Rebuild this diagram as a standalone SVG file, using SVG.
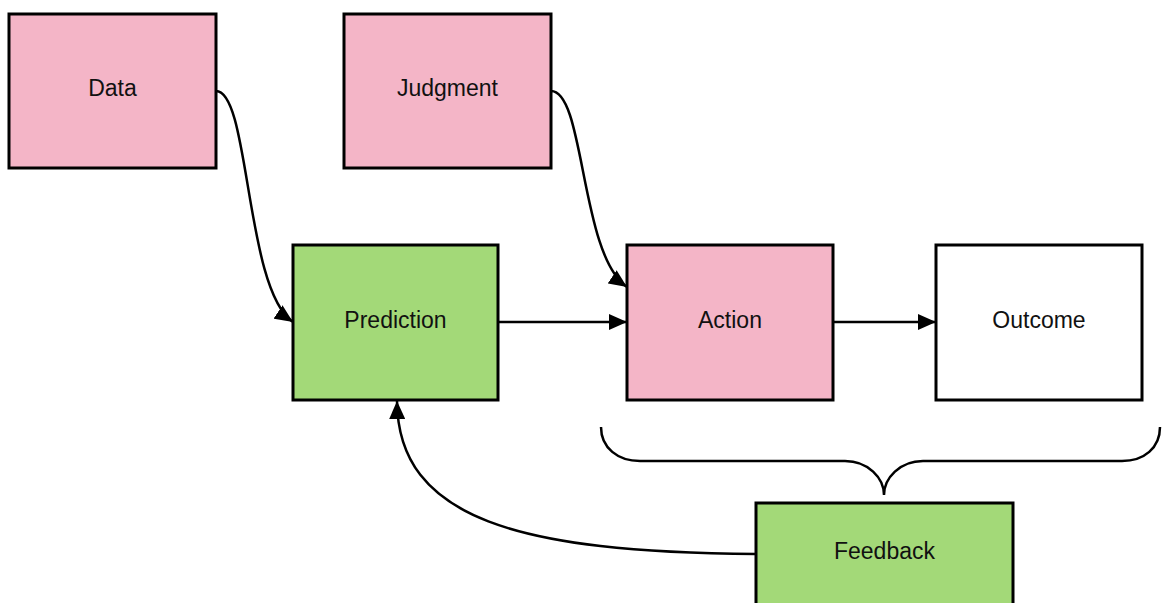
<svg xmlns="http://www.w3.org/2000/svg" width="1162" height="603" viewBox="0 0 1162 603">
<style>
.box{stroke:#000;stroke-width:3}
.pink{fill:#F4B5C7}
.green{fill:#A3D978}
.white{fill:#FFFFFF}
.lbl{font-family:"Liberation Sans",Arial,sans-serif;font-size:23px;fill:#111;text-anchor:middle;dominant-baseline:central}
.conn{fill:none;stroke:#000;stroke-width:2.5}
</style>
<defs>
<marker id="arr" markerUnits="userSpaceOnUse" markerWidth="20" markerHeight="16" refX="18" refY="8" orient="auto">
<path d="M0,0 L18,8 L0,16 Z" fill="#000"/>
</marker>
</defs>
<rect width="1162" height="603" fill="#fff"/>
<g id="data"><rect class="box pink" x="9" y="14" width="207" height="154"/><text class="lbl" x="112.5" y="88">Data</text></g>
<g id="judgment"><rect class="box pink" x="344" y="14" width="207" height="154"/><text class="lbl" x="447.5" y="88">Judgment</text></g>
<g id="prediction"><rect class="box green" x="293" y="245" width="205" height="155"/><text class="lbl" x="395.5" y="320">Prediction</text></g>
<g id="action"><rect class="box pink" x="627" y="245" width="206" height="155"/><text class="lbl" x="730" y="320">Action</text></g>
<g id="outcome"><rect class="box white" x="936" y="245" width="206" height="155"/><text class="lbl" x="1039" y="320">Outcome</text></g>
<g id="feedback"><rect class="box green" x="756" y="503" width="257" height="120"/><text class="lbl" x="884.5" y="551">Feedback</text></g>
<g id="connectors">
<path class="conn" marker-end="url(#arr)" d="M216,91 C250,91 245,290 293,322"/>
<path class="conn" marker-end="url(#arr)" d="M551,91 C585,91 580,255 627,287"/>
<path class="conn" marker-end="url(#arr)" d="M498,322 L627,322"/>
<path class="conn" marker-end="url(#arr)" d="M833,322 L936,322"/>
<path class="conn" marker-end="url(#arr)" d="M756,554 C520,552 398,520 397,401"/>
<path class="conn" d="M601,427 C601,448 618,461 640,461 L845,461 C868,461 884,478 884,495 C884,478 900,461 923,461 L1122,461 C1144,461 1160,448 1160,427"/>
</g>
</svg>
